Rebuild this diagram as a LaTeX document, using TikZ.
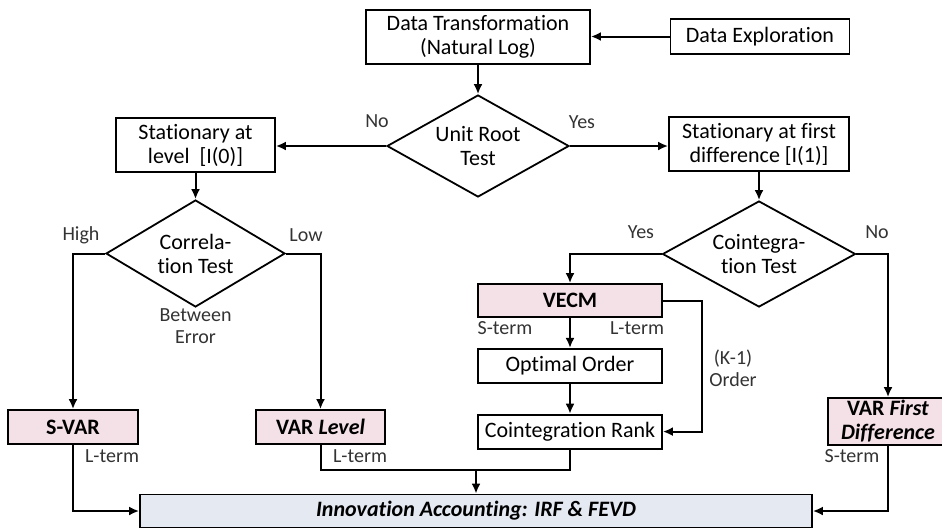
\documentclass[tikz,border=0pt]{standalone}
\usepackage{fontspec}
\setmainfont{Carlito}[Ligatures=NoCommon]
\usepackage{tikz}
\usetikzlibrary{shapes.geometric, positioning, arrows.meta}
\definecolor{modelpink}{RGB}{243,225,231}
\definecolor{resultblue}{RGB}{229,233,242}
\tikzset{
stepbox/.style={draw, line width=1.8pt, align=center, inner sep=0pt, font=\fontsize{22}{24}\selectfont},
model/.style={stepbox, fill=modelpink, font=\fontsize{22}{24}\selectfont\bfseries},
test/.style={draw, diamond, aspect=1.8, line width=1.8pt, align=center, inner sep=0pt, font=\fontsize{22}{24}\selectfont},
lbl/.style={font=\fontsize{20}{22}\selectfont, align=center, inner sep=0pt, text=black!80},
flow/.style={-{Latex[length=10pt, width=9pt]}, line width=2pt},
link/.style={line width=2pt}
}

\begin{document}
\begin{tikzpicture}[x=1pt, y=1pt, node distance=30pt]
\useasboundingbox (0,0) rectangle (942,-528);
\node[stepbox, minimum width=224pt, minimum height=54pt] (dt) at (478,-37) {Data Transformation\\(Natural Log)};
\node[stepbox, minimum width=179pt, minimum height=35pt] (de) at (760,-36.5) {Data Exploration};
\node[test, minimum width=182pt, minimum height=102pt] (ur) at (478,-146) {Unit Root\\Test};
\node[stepbox, minimum width=159pt, minimum height=54pt] (sl) at (195.5,-145) {Stationary at\\level~~[I(0)]};
\node[stepbox, minimum width=180pt, minimum height=54pt] (sd) at (759,-144) {Stationary at first\\difference [I(1)]};
\node[test, minimum width=179pt, minimum height=107pt] (ct) at (195.5,-253.5) {Correla-\\tion Test};
\node[test, minimum width=193pt, minimum height=106pt] (ci) at (759,-254) {Cointegra-\\tion Test};
\node[model, minimum width=130pt, minimum height=34pt] (svar) at (73,-427) {S-VAR};
\node[model, minimum width=129pt, minimum height=34pt] (vlev) at (320.5,-427) {VAR \textit{Level}};
\node[model, minimum width=184pt, minimum height=33pt] (vecm) at (570,-300.5) {VECM};
\node[stepbox, minimum width=184pt, minimum height=34pt, below=of vecm] (oo) {Optimal Order};
\node[stepbox, minimum width=184pt, minimum height=34pt, below=of oo] (cr) {Cointegration Rank};
\node[model, minimum width=120pt, minimum height=47pt] (vfd) at (888,-421.5) {VAR \textit{First}\\\textit{Difference}};
\node[stepbox, fill=resultblue, minimum width=672pt, minimum height=33pt, font=\fontsize{22}{24}\selectfont\bfseries\itshape] (ia) at (476,-511) {Innovation Accounting: IRF \& FEVD};
\coordinate (join) at (476,-470);
% labels
\node[lbl] (no1) at (377,-121) {No};
\node[lbl] (yes1) at (582,-122) {Yes};
\node[lbl] (high) at (81,-235) {High};
\node[lbl] (low) at (306,-235) {Low};
\node[lbl] (between) at (195.5,-326) {Between\\Error};
\node[lbl] (yes2) at (641,-232) {Yes};
\node[lbl] (no2) at (877,-232) {No};
\node[lbl] (st1) at (505,-328) {S-term};
\node[lbl] (lt1) at (637,-328) {L-term};
\node[lbl] (ko) at (733,-368) {(K-1)\\Order};
\node[lbl] (lt2) at (112,-456) {L-term};
\node[lbl] (lt3) at (360,-456) {L-term};
\node[lbl] (st2) at (852,-456) {S-term};
% ----
\draw[flow] (de.west) -- (de.west -| dt.east);
\draw[flow] (dt) -- (ur);
\draw[flow] (ur.west) -- (ur.west -| sl.east);
\draw[flow] (ur.east) -- (ur.east -| sd.west);
\draw[flow] (sl) -- (ct);
\draw[flow] (sd) -- (ci);

\draw[flow] (ct.west) -| (svar.north);
\draw[flow] (ct.east) -| (vlev.north);
\draw[flow] (ci.west) -| (vecm.north);
\draw[flow] (ci.east) -| (vfd.north);

\draw[flow] (vecm) -- (oo);
\draw[flow] (oo) -- (cr);
\draw[flow] (vecm.east) -- ++(39,0) |- (cr.east);

\draw[flow] (svar.south) |- (ia.west);
\draw[flow] (vfd.south) |- (ia.east);
\draw[link] (vlev.south) |- (join);
\draw[link] (cr.south) |- (join);
\draw[flow] (join) -- (join |- ia.north);
\end{tikzpicture}
\end{document}
